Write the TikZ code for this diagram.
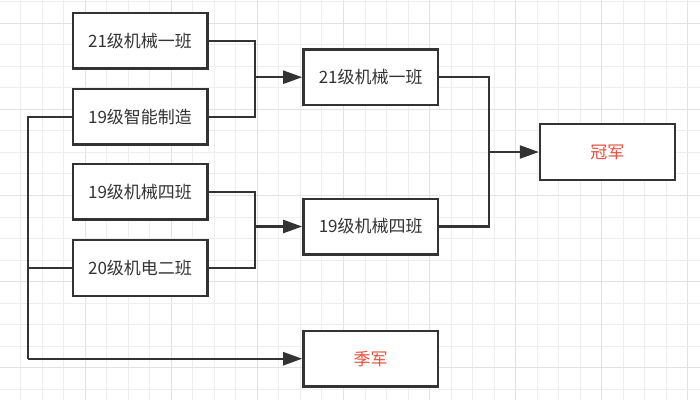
\documentclass[tikz,border=0pt]{standalone}
\usepackage{fontspec}
\newfontfamily\cjk{Noto Sans CJK SC}
\usetikzlibrary{arrows.meta}
\definecolor{linec}{HTML}{333333}
\definecolor{redtxt}{HTML}{E9503F}
\definecolor{gridminor}{HTML}{EEEEEE}
\definecolor{gridmajor}{HTML}{E2E2E2}
\tikzset{
  box/.style={draw=linec, line width=2.3pt, fill=white, minimum width=134.7pt, minimum height=55.7pt, inner sep=0pt, font=\cjk\fontsize{17}{20}\selectfont, text=linec},
  redbox/.style={box, text=redtxt},
  conn/.style={draw=linec, line width=2.3pt},
  arr/.style={conn, -{Triangle[length=19pt, width=13pt]}},
}
\begin{document}
\begin{tikzpicture}[x=1pt,y=-1pt]
\useasboundingbox (0,0) rectangle (700,400);
\fill[white] (0,0) rectangle (700,400);
% grid
\foreach \k in {0,...,31} {
  \pgfmathsetmacro{\xx}{20.7+21.52*\k}
  \pgfmathtruncatemacro{\mm}{mod(\k+1,4)}
  \ifnum\mm=0
    \draw[gridmajor, line width=1pt] (\xx,0) -- (\xx,400);
  \else
    \draw[gridminor, line width=1pt] (\xx,0) -- (\xx,400);
  \fi
}
\foreach \k in {0,...,18} {
  \pgfmathsetmacro{\yy}{1.8+21.52*\k}
  \pgfmathtruncatemacro{\mm}{mod(\k+3,4)}
  \ifnum\mm=0
    \draw[gridmajor, line width=1pt] (0,\yy) -- (700,\yy);
  \else
    \draw[gridminor, line width=1pt] (0,\yy) -- (700,\yy);
  \fi
}
% boxes
\node[box] (A) at (140,40.7) {21级机械一班};
\node[box] (B) at (140,116.7) {19级智能制造};
\node[box] (C) at (140,191.7) {19级机械四班};
\node[box] (D) at (140,268) {20级机电二班};
\node[box] (E) at (370.7,77.2) {21级机械一班};
\node[box] (F) at (370.7,226.5) {19级机械四班};
\node[redbox] (G) at (607.3,152) {冠军};
\node[redbox] (H) at (370.7,358.7) {季军};
% junctions
\coordinate (j1) at (255,77.2);
\coordinate (j2) at (255,226.5);
\coordinate (j3) at (489,152);
\coordinate (j4) at (28.3,358.7);
% connectors
\draw[conn] (A.east) -| (j1) |- (B.east);
\draw[arr] (j1) -- (E.west);
\draw[conn] (C.east) -| (j2) |- (D.east);
\draw[arr] (j2) -- (F.west);
\draw[conn] (E.east) -| (j3) |- (F.east);
\draw[arr] (j3) -- (G.west);
\draw[conn] (B.west) -| (j4);
\draw[arr] (j4) -- (H.west);
\draw[conn] (D.west) -- (D.west -| j4);
\end{tikzpicture}
\end{document}
